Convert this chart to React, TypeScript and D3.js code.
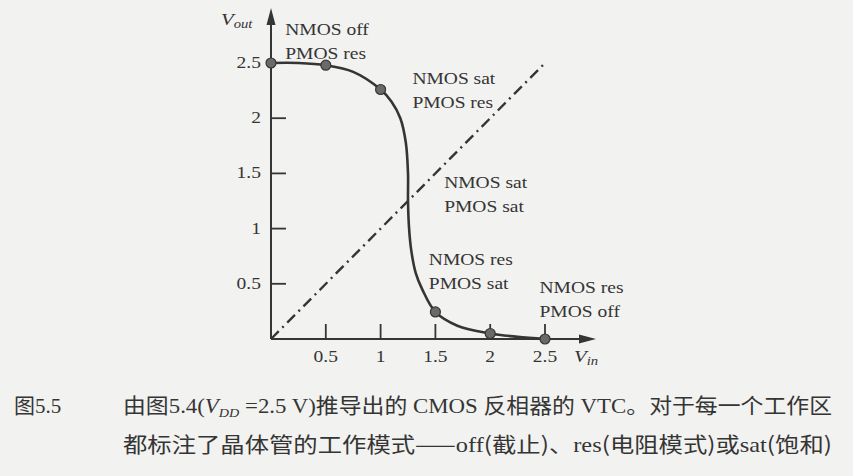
import * as d3 from "d3";

// VTC curve (Vin, Vout)
const vin = [0, 0.25, 0.5, 0.75, 1.0, 1.1, 1.18, 1.23, 1.25, 1.25, 1.26, 1.28, 1.32, 1.38, 1.5, 1.7, 2.0, 2.25, 2.5];
const vout = [2.5, 2.5, 2.48, 2.42, 2.26, 2.15, 2.0, 1.78, 1.5, 1.25, 1.0, 0.8, 0.6, 0.45, 0.245, 0.12, 0.05, 0.02, 0];

// marked points
const markVin = [0, 0.5, 1.0, 1.5, 2.0, 2.5];
const markVout = [2.5, 2.48, 2.26, 0.245, 0.05, 0];

const xTicks = [0.5, 1, 1.5, 2, 2.5];
const yTicks = [0.5, 1, 1.5, 2, 2.5];

// region labels: two lines each, anchored at (Vin, Vout) of the first baseline
const regionLines = [
  ["NMOS off", "PMOS res"],
  ["NMOS sat", "PMOS res"],
  ["NMOS sat", "PMOS sat"],
  ["NMOS res", "PMOS sat"],
  ["NMOS res", "PMOS off"],
];
const regionVin = [0.13, 1.29, 1.58, 1.44, 2.45];
const regionVout = [2.75, 2.31, 1.37, 0.67, 0.42];

const W = 853;
const H = 476;
const ink = "#353535";
const serif = '"Liberation Serif", "DejaVu Serif", serif';
const cjk = '"Noto Sans CJK SC", sans-serif';

// the scan's latin type is wider than Times, so stretch it a bit
function Wide({ x, y, size = 16, anchor = "start", italic = false, children }: any) {
  return (
    <text
      transform={`translate(${x},${y}) scale(1.22,1)`}
      textAnchor={anchor}
      fill={ink}
      style={{ fontFamily: serif, fontSize: size, fontStyle: italic ? "italic" : "normal" }}
    >
      {children}
    </text>
  );
}

export default function App() {
  const x = d3.scaleLinear().domain([0, 2.5]).range([271, 545]);
  const y = d3.scaleLinear().domain([0, 2.5]).range([339, 63]);

  const pts: [number, number][] = vin.map((v, i) => [v, vout[i]]);
  const line = d3
    .line<[number, number]>()
    .x((d) => x(d[0]))
    .y((d) => y(d[1]))
    .curve(d3.curveCatmullRom.alpha(0.5));

  const x0 = x(0);
  const y0 = y(0);

  return (
    <svg
      width={W}
      height={H}
      style={{ position: "absolute", left: 0, top: 0, background: "#f2f2f0" }}
    >
      {/* dash-dot diagonal Vin = Vout */}
      <line
        x1={x(0)}
        y1={y(0)}
        x2={x(2.5)}
        y2={y(2.5)}
        stroke={ink}
        strokeWidth={2.4}
        strokeDasharray="11,5,2,5"
      />

      {/* axes */}
      <line x1={x0} y1={y0} x2={x0} y2={22} stroke={ink} strokeWidth={2} />
      <path d={`M${x0},8 L${x0 - 4.5},25 L${x0 + 4.5},25 Z`} fill={ink} />
      <line x1={x0} y1={y0} x2={583} y2={y0} stroke={ink} strokeWidth={2} />
      <path d={`M596,${y0} L579,${y0 - 4.5} L579,${y0 + 4.5} Z`} fill={ink} />

      {xTicks.map((t) => (
        <g key={"x" + t}>
          <line x1={x(t)} x2={x(t)} y1={y0} y2={y0 - 15} stroke={ink} strokeWidth={1.8} />
          <Wide x={x(t)} y={362} anchor="middle">
            {t}
          </Wide>
        </g>
      ))}
      {yTicks.map((t) => (
        <g key={"y" + t}>
          <line x1={x0} x2={x0 + 15} y1={y(t)} y2={y(t)} stroke={ink} strokeWidth={1.8} />
          <Wide x={261} y={y(t) + 5} anchor="end">
            {t}
          </Wide>
        </g>
      ))}

      {/* axis titles */}
      <Wide x={221} y={25} size={17} italic>
        V<tspan fontSize={12} dy={3}>out</tspan>
      </Wide>
      <Wide x={574} y={362} size={17} italic>
        V<tspan fontSize={12} dy={3}>in</tspan>
      </Wide>

      {/* VTC curve */}
      <path d={line(pts) ?? ""} fill="none" stroke={ink} strokeWidth={2.6} />

      {markVin.map((v, i) => (
        <circle
          key={"m" + i}
          cx={x(v)}
          cy={y(markVout[i])}
          r={5}
          fill="#6a6a6a"
          stroke={ink}
          strokeWidth={1.2}
        />
      ))}

      {/* region labels */}
      {regionLines.map((ls, i) => (
        <g key={"r" + i}>
          <Wide x={x(regionVin[i])} y={y(regionVout[i])}>
            {ls[0]}
          </Wide>
          <Wide x={x(regionVin[i])} y={y(regionVout[i]) + 24}>
            {ls[1]}
          </Wide>
        </g>
      ))}

      {/* caption */}
      <text x={14} y={413} fill={ink} style={{ fontFamily: cjk, fontSize: 21 }}>
        图<tspan style={{ fontFamily: serif }}>5.5</tspan>
      </text>
      <text
        x={123}
        y={413}
        fill={ink}
        style={{ fontFamily: cjk, fontSize: 21 }}
        textLength={709}
        lengthAdjust="spacingAndGlyphs"
      >
        由图<tspan style={{ fontFamily: serif }}>5.4(</tspan>
        <tspan style={{ fontFamily: serif, fontStyle: "italic" }}>V</tspan>
        <tspan style={{ fontFamily: serif, fontStyle: "italic", fontSize: 13 }} dy={4}>DD</tspan>
        <tspan style={{ fontFamily: serif }} dy={-4}> =2.5 V)</tspan>推导出的
        <tspan style={{ fontFamily: serif }}> CMOS </tspan>反相器的
        <tspan style={{ fontFamily: serif }}> VTC</tspan>。对于每一个工作区
      </text>
      <text
        x={123}
        y={452}
        fill={ink}
        style={{ fontFamily: cjk, fontSize: 21 }}
        textLength={709}
        lengthAdjust="spacingAndGlyphs"
      >
        都标注了晶体管的工作模式——<tspan style={{ fontFamily: serif }}>off</tspan>(截止)、
        <tspan style={{ fontFamily: serif }}>res</tspan>(电阻模式)或
        <tspan style={{ fontFamily: serif }}>sat</tspan>(饱和)
      </text>
    </svg>
  );
}
